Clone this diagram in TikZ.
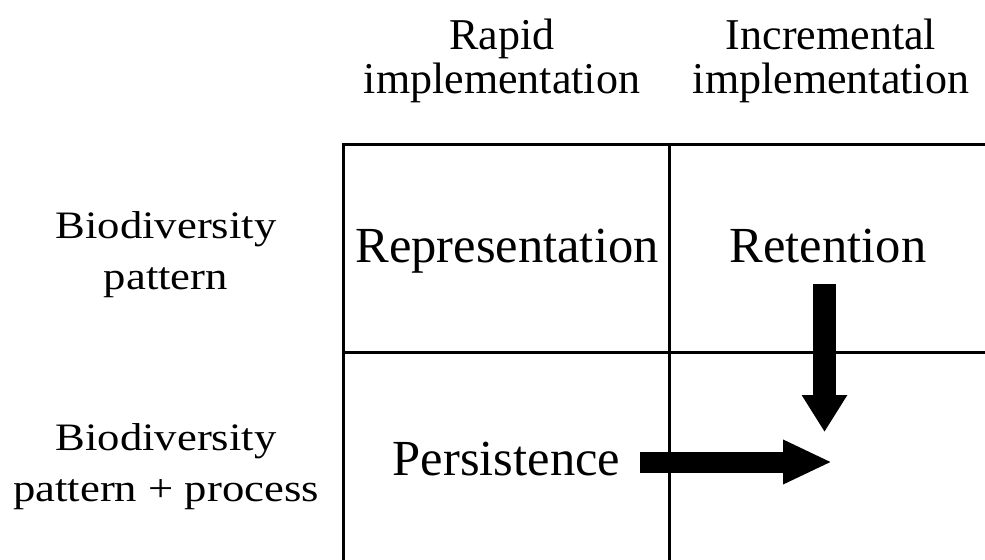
\documentclass[tikz,border=0pt]{standalone}
\usepackage{fontspec}
\setmainfont{Liberation Serif}
\usepackage{graphicx}
\usetikzlibrary{arrows.meta}
\begin{document}
\begin{tikzpicture}[x=0.75pt,y=-0.75pt,
  gridline/.style={line width=2.25pt,line join=miter},
  hdr/.style={anchor=base,inner sep=0pt,font=\fontsize{33}{31.5}\selectfont},
  side/.style={anchor=base,inner sep=0pt,font=\fontsize{33.5}{44}\selectfont},
  cell/.style={anchor=base,inner sep=0pt,font=\fontsize{37.9}{45}\selectfont},
  fatv/.style={line width=17.25pt,-{Triangle[length=27.75pt,width=32.25pt]}},
  fath/.style={line width=15.75pt,-{Triangle[length=36.75pt,width=30.75pt]}}]
\useasboundingbox (0,0) rectangle (985,560);
\clip (0,0) rectangle (985,560);
\fill[white] (0,0) rectangle (985,560);
% grid
\draw[gridline] (995,144) -- (343,144) -- (343,570);
\draw[gridline] (343,352) -- (995,352);
\draw[gridline] (669,144) -- (669,570);
% headers
\node[hdr] (rapid) at (502,50) {\begin{tabular}[t]{@{}c@{}}Rapid\\implementation\end{tabular}};
\node[hdr] (incr) at (831,50) {\begin{tabular}[t]{@{}c@{}}Incremental\\implementation\end{tabular}};
% side labels
\node[side] (pat) at (166,238) {\scalebox{1}[0.87]{\begin{tabular}[t]{@{}c@{}}Biodiversity\\pattern\end{tabular}}};
\node[side] (patproc) at (166,450) {\scalebox{1}[0.87]{\begin{tabular}[t]{@{}c@{}}Biodiversity\\pattern + process\end{tabular}}};
% cells
\node[cell] (rep) at (507,262) {Representation};
\node[cell] (ret) at (828,262) {Retention};
\node[cell] (pers) at (506.5,475) {Persistence};
% arrows
\coordinate (vtip) at (824.5,432);
\coordinate (htip) at (832,462);
\draw[fatv,shorten <=15.75pt] (ret.south -| vtip) -- (vtip);
\draw[fath,shorten <=15pt] (pers.east |- htip) -- (htip);
\end{tikzpicture}
\end{document}
